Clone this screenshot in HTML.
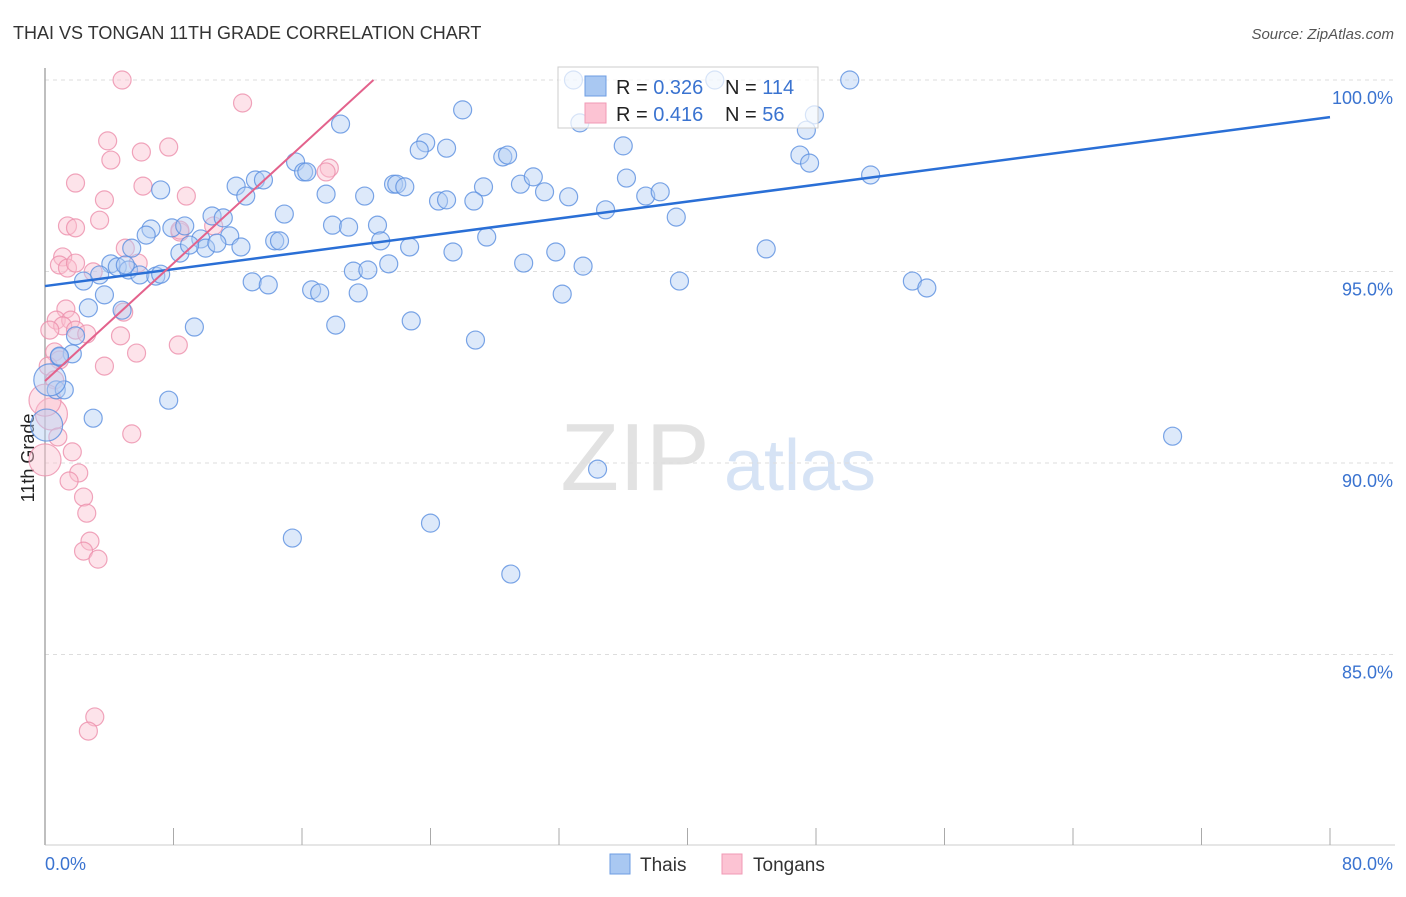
<!DOCTYPE html>
<html><head><meta charset="utf-8"><style>
body{margin:0;background:#fff;font-family:"Liberation Sans",sans-serif;}
svg text{font-family:"Liberation Sans",sans-serif;}
</style></head><body>
<svg id="chart" width="1406" height="892" viewBox="0 0 1406 892">
<text x="13" y="39" font-size="18" fill="#333">THAI VS TONGAN 11TH GRADE CORRELATION CHART</text>
<text x="1394" y="39" font-size="15" fill="#555" text-anchor="end" font-style="italic">Source: ZipAtlas.com</text>
<text x="34" y="458" font-size="18" fill="#222" transform="rotate(-90 34 458)" text-anchor="middle">11th Grade</text>
<g>
<text x="635" y="490" font-size="96" font-family="Liberation Serif,serif" fill="#e2e2e2" text-anchor="middle">ZIP</text>
<text x="800" y="490" font-size="72" fill="#d6e3f5" text-anchor="middle">atlas</text>
</g>
<g id="grid"></g>
<g id="axes"></g>
<g id="marks"></g>
<g>
<rect x="558" y="67" width="260" height="61" fill="#fff" fill-opacity="0.7" stroke="#ccc"/>
<rect x="585" y="76" width="21" height="20" fill="#a9c8f2" stroke="#6d9de3"/>
<rect x="585" y="103" width="21" height="20" fill="#fcc3d3" stroke="#f09ab4"/>
<text x="616" y="94" font-size="20" fill="#222">R = <tspan fill="#3a73d0">0.326</tspan></text>
<text x="725" y="94" font-size="20" fill="#222">N = <tspan fill="#3a73d0">114</tspan></text>
<text x="616" y="121" font-size="20" fill="#222">R = <tspan fill="#3a73d0"> 0.416</tspan></text>
<text x="725" y="121" font-size="20" fill="#222">N = <tspan fill="#3a73d0"> 56</tspan></text>
</g>
<g>
<rect x="610" y="854" width="20" height="20" fill="#a9c8f2" stroke="#6d9de3"/>
<text x="640" y="871" font-size="19" fill="#333">Thais</text>
<rect x="722" y="854" width="20" height="20" fill="#fcc3d3" stroke="#f09ab4"/>
<text x="753" y="871" font-size="19" fill="#333">Tongans</text>
</g>
</svg>
<script>
const yTicks=[100,95,90,85];
const yTickLabels=["100.0%","95.0%","90.0%","85.0%"];
const xEndLabels=["0.0%","80.0%"];
const thaiX=[32.9,41.7,50.1,26.0,47.9,47.4,18.4,33.3,23.7,23.3,25.0,36.0,28.5,28.8,47.0,47.6,15.6,16.1,16.3,13.1,13.6,11.9,7.2,12.5,17.5,19.9,21.7,21.9,22.4,27.3,29.6,30.4,31.1,32.6,36.2,37.4,38.3,51.4,24.5,25.0,26.7,34.9,39.3,14.9,10.4,11.1,17.9,18.9,20.7,7.9,8.7,6.6,6.3,11.5,9.7,10.0,10.7,12.2,14.3,14.6,20.9,22.7,27.5,25.4,31.8,44.9,5.4,8.4,4.1,4.5,9.0,21.4,19.2,20.1,29.8,33.5,5.2,5.9,6.9,3.4,2.4,12.9,13.9,16.6,17.1,19.5,32.2,39.5,54.0,54.9,3.7,2.7,4.8,18.1,22.8,9.3,1.9,1.7,0.9,26.8,0.7,1.2,7.7,3.0,0.1,70.2,34.4,24.0,15.4,29.0,0.3,0.9,5.0,7.2];
const thaiY=[100.0,100.0,100.0,99.22,99.09,98.69,98.85,98.88,98.36,98.17,98.22,98.28,97.99,98.04,98.04,97.83,97.86,97.60,97.60,97.39,97.39,97.23,97.13,96.97,97.02,96.97,97.28,97.28,97.21,97.21,97.28,97.47,97.08,96.95,97.44,96.97,97.08,97.52,96.84,96.87,96.84,96.61,96.42,96.50,96.45,96.40,96.21,96.16,96.21,96.14,96.19,96.11,95.95,95.93,95.85,95.61,95.74,95.64,95.80,95.80,95.80,95.64,95.90,95.51,95.51,95.59,95.61,95.48,95.20,95.12,95.69,95.20,95.01,95.04,95.22,95.14,95.04,94.91,94.88,94.91,94.75,94.73,94.65,94.52,94.44,94.44,94.41,94.75,94.75,94.57,94.39,94.05,93.99,93.60,93.71,93.55,93.32,92.85,92.77,93.21,91.91,91.91,91.64,91.17,90.99,90.70,89.84,88.43,88.04,87.10,92.17,92.79,95.17,94.93];
const tongX=[4.8,12.3,3.9,7.7,6.0,4.1,17.7,17.5,1.9,6.1,8.8,3.7,1.4,1.9,3.4,10.5,8.4,5.0,1.1,0.9,1.4,3.0,5.8,1.3,4.9,0.7,1.6,1.1,1.9,2.6,4.7,8.3,5.7,3.7,0.6,0.9,0.2,0.6,5.4,0.4,0.8,0.0,1.7,2.1,1.5,2.4,2.6,2.8,2.4,3.3,3.1,2.7,1.9,0.3,0.0,8.4];
const tongY=[100,99.40,98.41,98.25,98.12,97.91,97.70,97.60,97.31,97.23,96.97,96.87,96.19,96.14,96.34,96.19,96.03,95.61,95.38,95.17,95.09,94.99,95.22,94.02,93.94,93.73,93.73,93.58,93.47,93.37,93.32,93.08,92.87,92.53,92.90,92.69,92.53,92.17,90.76,91.28,90.68,90.08,90.29,89.74,89.53,89.11,88.69,87.96,87.70,87.49,83.37,83.00,95.22,93.47,91.64,96.08];
const thaiLine=[94.62,99.03];
const tongLine=[92.14,0.3844];
const NS="http://www.w3.org/2000/svg";
const X=v=>45+v/80*1285;
const Y=v=>80+(100-v)*38.3;
function mk(tag,attrs,parent){const e=document.createElementNS(NS,tag);for(const k in attrs)e.setAttribute(k,attrs[k]);document.getElementById(parent).appendChild(e);return e;}
yTicks.forEach((t,i)=>{
 const g=mk('line',{x1:45,x2:1395,y1:Y(t),y2:Y(t),stroke:'#ddd','stroke-dasharray':'4,4'},'grid');
 
 
 const l=mk('text',{x:1393,y:Y(t)+24,'font-size':18,fill:'#3a73d0','text-anchor':'end'},'grid');
 l.textContent=yTickLabels[i];
 
 
});
const ax=mk('line',{x1:45,x2:45,y1:68,y2:845,stroke:'#aaa','stroke-width':1.5},'axes');


const bx=mk('line',{x1:45,x2:1395,y1:845,y2:845,stroke:'#ccc'},'axes');


for(let i=0;i<=10;i++){
 const t=mk('line',{x1:X(i*8),x2:X(i*8),y1:828,y2:845,stroke:'#aaa'},'axes');
 
 
}
[0,80].forEach((v,i)=>{
 const t=mk('text',{x:i?1393:45,y:870,'font-size':18,fill:'#3a73d0','text-anchor':i?'end':'start'},'axes');
 t.textContent=xEndLabels[i];
 
 
});
function dots(xs,ys,fill,stroke,name){
 xs.forEach((x,i)=>{
  const r=(x<0.5&&ys[i]<92.5)?16:9;
  const c=mk('circle',{cx:X(x),cy:Y(ys[i]),r:r,fill:fill,'fill-opacity':0.45,stroke:stroke,'stroke-opacity':0.8,'stroke-width':1.2},'marks');
  
  
 });
}
dots(tongX,tongY,'#fbc0d0','#ec8eab','tongan-point');
dots(thaiX,thaiY,'#b3cff3','#5a8fe0','thai-point');
const bl=mk('line',{x1:X(0),y1:Y(thaiLine[0]),x2:X(80),y2:Y(thaiLine[1]),stroke:'#2a6fd6','stroke-width':2.5},'marks');


const xe=(100-tongLine[0])/tongLine[1];
const pl=mk('line',{x1:X(0),y1:Y(tongLine[0]),x2:X(xe),y2:Y(100),stroke:'#e3628c','stroke-width':2},'marks');


</script>
</body></html>
